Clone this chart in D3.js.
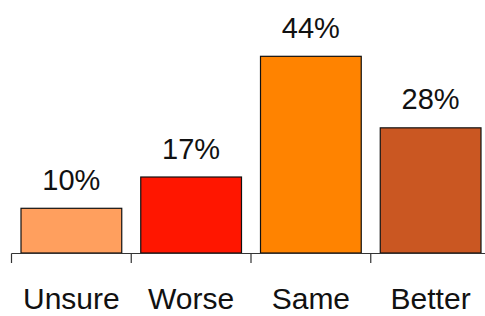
<!DOCTYPE html>
<html>
<head>
<meta charset="utf-8">
<script src="https://cdn.jsdelivr.net/npm/d3@7"></script>
<style>
  html, body { margin: 0; padding: 0; background: #fff; }
  svg { display: block; }
</style>
</head>
<body>
<svg id="chart" width="485" height="316"></svg>
<script>
const categories = ["Unsure", "Worse", "Same", "Better"];
const values = [10, 17, 44, 28];
const labels = ["10%", "17%", "44%", "28%"];
const colors = ["#FF9F5E", "#FF1600", "#FF8300", "#CA5722"];

const svg = d3.select("#chart");
const font = "'Liberation Sans', Arial, Helvetica, sans-serif";

const x = d3.scaleBand().domain(categories).range([11.5, 490.5]).padding(0);
const y = d3.scaleLinear().domain([0, 50]).range([253, 253 - 50 * 4.47]);
const inset = 9.5;

// bars
svg.selectAll("rect.bar")
  .data(categories)
  .join("rect")
  .attr("class", "bar")
  .attr("x", d => x(d) + inset)
  .attr("width", x.bandwidth() - 2 * inset)
  .attr("y", (d, i) => y(values[i]))
  .attr("height", (d, i) => y(0) - y(values[i]))
  .attr("fill", (d, i) => colors[i])
  .attr("stroke", "#111")
  .attr("stroke-width", 1.2);

// value labels
svg.selectAll("text.val")
  .data(categories)
  .join("text")
  .attr("class", "val")
  .attr("x", d => x(d) + x.bandwidth() / 2)
  .attr("y", (d, i) => y(values[i]) - 18.5)
  .attr("text-anchor", "middle")
  .attr("font-family", font)
  .attr("font-size", 29)
  .attr("fill", "#111")
  .text((d, i) => labels[i]);

// axis
const axisY = 253.5;
const axis = svg.append("g").attr("stroke", "#333").attr("stroke-width", 1.2);
axis.append("line")
  .attr("x1", x.range()[0]).attr("x2", x.range()[1])
  .attr("y1", axisY).attr("y2", axisY);
const tickXs = categories.map(d => x(d)).concat([x.range()[1]]);
axis.selectAll("line.tick")
  .data(tickXs)
  .join("line")
  .attr("class", "tick")
  .attr("x1", d => d).attr("x2", d => d)
  .attr("y1", axisY).attr("y2", axisY + 9.5);

// category labels
svg.selectAll("text.cat")
  .data(categories)
  .join("text")
  .attr("class", "cat")
  .attr("x", d => x(d) + x.bandwidth() / 2)
  .attr("y", 308.5)
  .attr("text-anchor", "middle")
  .attr("font-family", font)
  .attr("font-size", 30)
  .attr("fill", "#111")
  .text(d => d);
</script>
</body>
</html>
